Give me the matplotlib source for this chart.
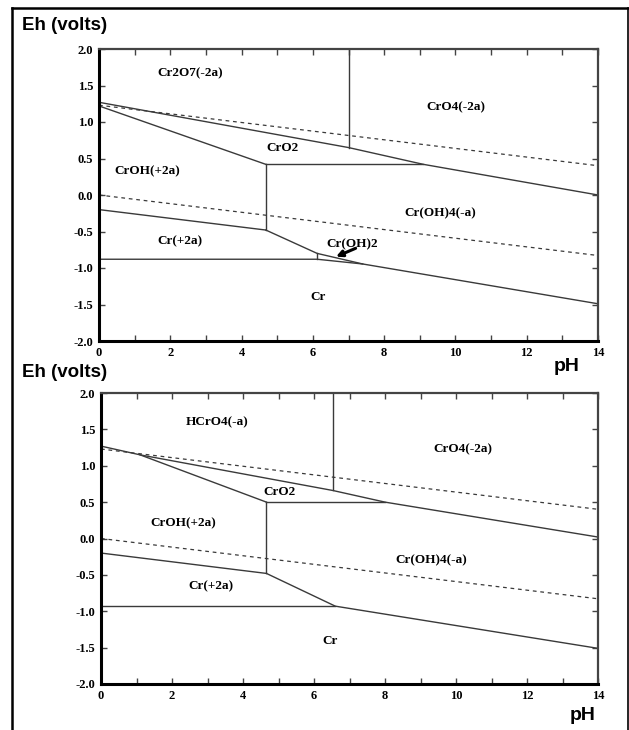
import matplotlib
matplotlib.use("Agg")
import matplotlib.pyplot as plt
from matplotlib.ticker import MultipleLocator, FormatStrFormatter
import numpy as np

# water stability lines (dashed)
ph_water = [0, 14]
eh_o2 = [1.23, 1.23 - 0.0592 * 14]
eh_h2 = [0.0, -0.0592 * 14]

# --- top diagram (with Cr2O7) ---
top_lines = [
  ([7.0, 7.0], [2.0, 0.65]),
  ([0, 7.0, 9.1, 14], [1.27, 0.65, 0.42, 0.0]),
  ([0, 4.68], [1.22, 0.42]),
  ([4.68, 9.1], [0.42, 0.42]),
  ([4.68, 4.68], [0.42, -0.48]),
  ([0, 4.68], [-0.20, -0.48]),
  ([4.68, 6.12, 7.4, 14], [-0.48, -0.80, -0.945, -1.49]),
  ([0, 6.12, 7.4], [-0.88, -0.88, -0.945]),
  ([6.12, 6.12], [-0.80, -0.88]),
]
top_labels = ["Cr2O7(-2a)", "CrO4(-2a)", "CrO2", "CrOH(+2a)", "Cr(OH)4(-a)", "Cr(+2a)", "Cr(OH)2", "Cr"]
top_lab_ph = [2.55, 10.0, 5.16, 1.35, 9.57, 2.27, 7.1, 6.14]
top_lab_eh = [1.67, 1.20, 0.64, 0.32, -0.25, -0.63, -0.67, -1.40]

# --- bottom diagram (with HCrO4) ---
bot_lines = [
  ([6.53, 6.53], [2.0, 0.66]),
  ([0, 1.1, 4.66], [1.27, 1.15, 0.50]),
  ([1.1, 6.53, 8.0, 14], [1.15, 0.66, 0.50, 0.02]),
  ([4.66, 8.0], [0.50, 0.50]),
  ([4.66, 4.66], [0.50, -0.48]),
  ([0, 4.66], [-0.20, -0.48]),
  ([4.66, 6.6, 14], [-0.48, -0.93, -1.51]),
  ([0, 6.6], [-0.93, -0.93]),
]
bot_labels = ["HCrO4(-a)", "CrO4(-2a)", "CrO2", "CrOH(+2a)", "Cr(OH)4(-a)", "Cr(+2a)", "Cr"]
bot_lab_ph = [3.27, 10.2, 5.04, 2.31, 9.3, 3.1, 6.45]
bot_lab_eh = [1.60, 1.22, 0.64, 0.21, -0.30, -0.66, -1.41]

serif = "Liberation Serif"
sans = "Liberation Sans"
line_col = "#3a3a3a"


def draw_panel(ax, lines, labels, lab_ph, lab_eh):
  ax.set_xlim(0, 14)
  ax.set_ylim(-2.0, 2.0)
  ax.plot(ph_water, eh_o2, ls=(0, (3, 3)), color=line_col, lw=0.9)
  ax.plot(ph_water, eh_h2, ls=(0, (3, 3)), color=line_col, lw=0.9)
  for xs, ys in lines:
    ax.plot(xs, ys, color=line_col, lw=1.0)
  for t, x, y in zip(labels, lab_ph, lab_eh):
    ax.text(x, y, t, ha="center", va="center", fontsize=9.5,
            fontfamily=serif, fontweight="bold")
  ax.xaxis.set_major_locator(MultipleLocator(2))
  ax.xaxis.set_minor_locator(MultipleLocator(1))
  ax.yaxis.set_major_locator(MultipleLocator(0.5))
  ax.xaxis.set_major_formatter(FormatStrFormatter("%d"))
  ax.yaxis.set_major_formatter(FormatStrFormatter("%.1f"))
  ax.tick_params(which="both", direction="in", top=True, right=True,
                 length=4, width=1, color="#444444", pad=4)
  for lab in ax.get_xticklabels() + ax.get_yticklabels():
    lab.set_fontfamily(serif)
    lab.set_fontweight("bold")
    lab.set_fontsize(9)
  for s in ["left", "bottom"]:
    ax.spines[s].set_linewidth(2.2)
    ax.spines[s].set_color("black")
  for s in ["top", "right"]:
    ax.spines[s].set_linewidth(1.6)
    ax.spines[s].set_color("#444444")


fig = plt.figure(figsize=(6.29, 7.30), dpi=100)

ax1 = fig.add_axes([99 / 629, 1 - 341 / 730, 499 / 629, 292 / 730])
draw_panel(ax1, top_lines, top_labels, top_lab_ph, top_lab_eh)
ax1.annotate("", xy=(6.65, -0.845), xytext=(7.2, -0.73),
             arrowprops=dict(arrowstyle="-|>", color="black", lw=2.2,
                             mutation_scale=9, shrinkA=0, shrinkB=0))

ax2 = fig.add_axes([101 / 629, 1 - 684 / 730, 497 / 629, 291 / 730])
draw_panel(ax2, bot_lines, bot_labels, bot_lab_ph, bot_lab_eh)

# axis titles
fig.text(22 / 629, 1 - 25 / 730, "Eh (volts)", ha="left", va="center",
         fontsize=13.5, fontfamily=sans, fontweight="bold")
fig.text(554 / 629, 1 - 366 / 730, "pH", ha="left", va="center",
         fontsize=14, fontfamily=sans, fontweight="bold")
fig.text(22 / 629, 1 - 373 / 730, "Eh (volts)", ha="left", va="center",
         fontsize=13.5, fontfamily=sans, fontweight="bold")
fig.text(570 / 629, 1 - 716 / 730, "pH", ha="left", va="center",
         fontsize=14, fontfamily=sans, fontweight="bold")

# outer frame
fig.add_artist(plt.Line2D([12 / 629, 12 / 629], [0, 1 - 8 / 730], transform=fig.transFigure,
                          color="black", lw=1.8))
fig.add_artist(plt.Line2D([12 / 629, 1], [1 - 8 / 730, 1 - 8 / 730], transform=fig.transFigure,
                          color="black", lw=1.8))
fig.add_artist(plt.Line2D([627.5 / 629, 627.5 / 629], [0, 1 - 8 / 730], transform=fig.transFigure,
                          color="black", lw=1.2))

fig.savefig("out.png", dpi=100)
